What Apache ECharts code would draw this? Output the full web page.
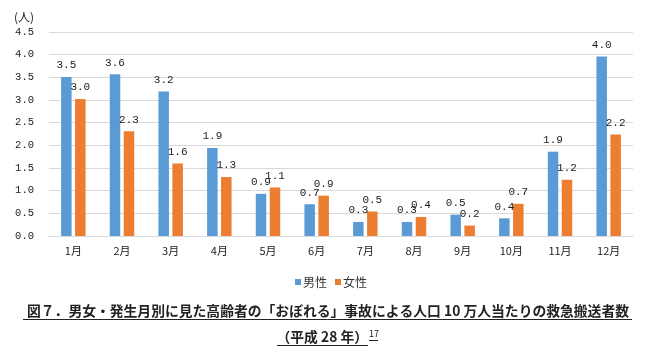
<!DOCTYPE html>
<html><head><meta charset="utf-8">
<script src="https://cdn.jsdelivr.net/npm/echarts@6/dist/echarts.min.js"></script>
<style>html,body{margin:0;padding:0;background:#fff}#c{width:649px;height:355px}</style>
</head><body><div id="c"></div>
<script>
const categories = ['1月','2月','3月','4月','5月','6月','7月','8月','9月','10月','11月','12月'];
const male = [3.51, 3.57, 3.19, 1.94, 0.93, 0.70, 0.31, 0.31, 0.47, 0.39, 1.86, 3.96];
const female = [3.02, 2.31, 1.60, 1.30, 1.07, 0.89, 0.54, 0.42, 0.23, 0.71, 1.24, 2.24];
const seriesNames = ['男性', '女性'];
const yTicks = {min: 0, max: 4.5, interval: 0.5};
const unitLabel = '(人)';
const titleLine1 = '図７．男女・発生月別に見た高齢者の「おぼれる」事故による人口 10 万人当たりの救急搬送者数';
const titleLine2 = '（平成 28 年）';
const titleNote = '17';

const numFont = 'Liberation Mono';
const cjk = 'Noto Sans CJK JP';
const chart = echarts.init(document.getElementById('c'), null, {renderer: 'canvas'});
const labelCfg = {
  show: true, position: 'top', distance: 6,
  fontFamily: numFont, fontSize: 11, color: '#222',
  formatter: p => p.value.toFixed(1)
};
chart.setOption({
  animation: false,
  grid: {left: 49, right: 16, top: 32, bottom: 119},
  legend: {
    data: seriesNames, left: 290, top: 271, icon: 'rect',
    itemWidth: 6, itemHeight: 6, itemGap: 8,
    textStyle: {fontFamily: cjk, fontSize: 12, color: '#333', padding: [0,0,0,-3]}
  },
  xAxis: {
    type: 'category', data: categories,
    axisLine: {lineStyle: {color: '#d9d9d9', width: 1}},
    axisTick: {show: false},
    axisLabel: {fontFamily: cjk, fontSize: 11, color: '#222', margin: 9}
  },
  yAxis: {
    type: 'value', min: yTicks.min, max: yTicks.max, interval: yTicks.interval,
    axisLine: {show: false}, axisTick: {show: false},
    splitLine: {lineStyle: {color: '#d9d9d9', width: 1}},
    axisLabel: {fontFamily: numFont, fontSize: 10.5, color: '#222', margin: 15,
      formatter: v => v.toFixed(1)}
  },
  series: [
    {name: seriesNames[0], type: 'bar', data: male, barWidth: 10.5, barGap: '33%',
     itemStyle: {color: '#5B9BD5'}, label: labelCfg},
    {name: seriesNames[1], type: 'bar', data: female, barWidth: 10.5,
     itemStyle: {color: '#ED7D31'}, label: labelCfg}
  ],
  graphic: [
    {type: 'text', left: 14, top: 11, style: {text: unitLabel, font: '12px "Noto Sans CJK JP"', fill: '#222'}},
    {type: 'text', x: 328, y: 304, style: {text: titleLine1, font: 'bold 13.8px "Noto Sans CJK JP"', fill: '#222', align: 'center'}},
    {type: 'line', shape: {x1: 23, y1: 319.5, x2: 632, y2: 319.5}, style: {stroke: '#222', lineWidth: 1}},
    {type: 'text', x: 368, y: 330, style: {text: titleLine2, font: 'bold 13.8px "Noto Sans CJK JP"', fill: '#222', align: 'right'}},
    {type: 'line', shape: {x1: 277, y1: 345.5, x2: 368, y2: 345.5}, style: {stroke: '#222', lineWidth: 1}},
    {type: 'text', x: 369, y: 329, style: {text: titleNote, font: '9px "Noto Sans CJK JP"', fill: '#222'}},
    {type: 'line', shape: {x1: 369, y1: 340.5, x2: 378, y2: 340.5}, style: {stroke: '#222', lineWidth: 1}}
  ]
});
</script></body></html>
